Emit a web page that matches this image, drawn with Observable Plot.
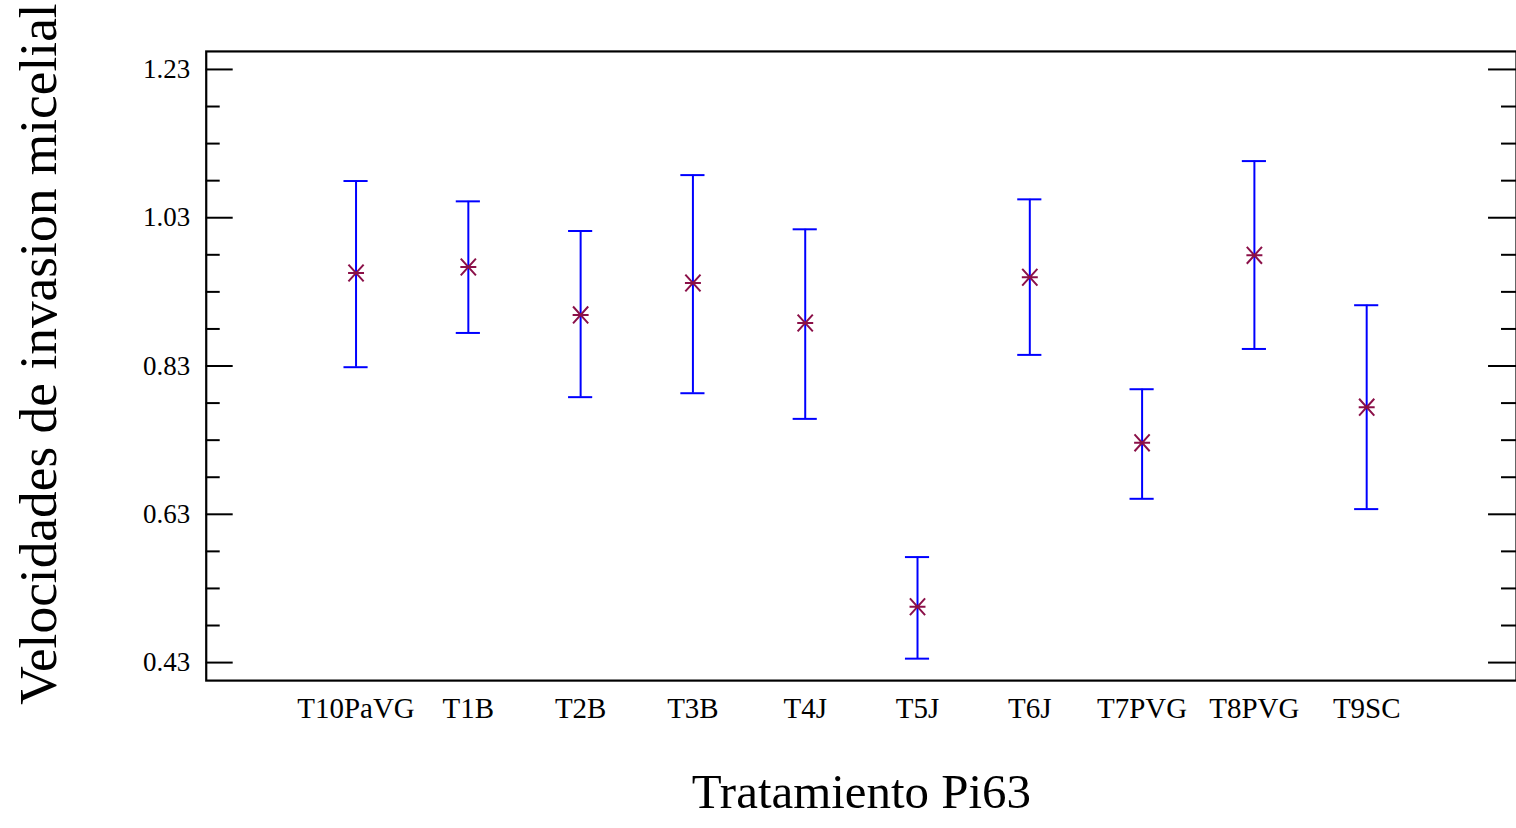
<!DOCTYPE html>
<html>
<head>
<meta charset="utf-8">
<script src="https://cdn.jsdelivr.net/npm/d3@7"></script>
<script src="https://cdn.jsdelivr.net/npm/@observablehq/plot@0.6"></script>
<style>
  html, body { margin: 0; padding: 0; background: #fff; overflow: hidden; }
  #chart svg { display: block; }
</style>
</head>
<body>
<div id="chart"></div>
<script>
// Data
const categories = ["T10PaVG", "T1B", "T2B", "T3B", "T4J", "T5J", "T6J", "T7PVG", "T8PVG", "T9SC"];
const means = [0.9555, 0.9636, 0.8989, 0.9420, 0.8881, 0.5053, 0.9497, 0.7264, 0.9793, 0.7745];
const lower = [0.8284, 0.8746, 0.7880, 0.7933, 0.7587, 0.4353, 0.8450, 0.6509, 0.8530, 0.6370];
const upper = [1.0795, 1.0521, 1.0121, 1.0875, 1.0144, 0.5723, 1.0548, 0.7987, 1.1064, 0.9120];
const yMajorTicks = [0.43, 0.63, 0.83, 1.03, 1.23];
const yMinorTicks = [0.48, 0.53, 0.58, 0.68, 0.73, 0.78, 0.88, 0.93, 0.98, 1.08, 1.13, 1.18];
const xTitle = "Tratamiento Pi63";
const yTitle = "Velocidades de invasion micelial";

const rows = categories.map((c, i) => ({cat: c, mean: means[i], lo: lower[i], hi: upper[i]}));

const W = 1518, H = 828;
const mL = 206, mR = 0, mT = 51, mB = 147;
const frameW = W - mL - mR;
const FONT = "'Liberation Serif', 'Times New Roman', serif";

// custom asterisk: horizontal bar plus two steep diagonals
const star = {
  draw(ctx, size) {
    const r = Math.sqrt(size / Math.PI);
    const dx = r * 0.95, dy = r * 1.05;
    ctx.moveTo(-r, 0); ctx.lineTo(r, 0);
    ctx.moveTo(-dx, -dy); ctx.lineTo(dx, dy);
    ctx.moveTo(-dx, dy); ctx.lineTo(dx, -dy);
  }
};

const chart = Plot.plot({
  width: W,
  height: H,
  marginLeft: mL,
  marginRight: mR,
  marginTop: mT,
  marginBottom: mB,
  style: {fontFamily: FONT, color: "#000", background: "#fff"},
  x: {type: "band", domain: categories, paddingInner: 0.785, paddingOuter: 1.2266, round: false, axis: null},
  y: {domain: [0.4057, 1.2543], axis: null},
  marks: [
    Plot.frame({stroke: "#000", strokeWidth: 2.2}),
    // inward ticks, left and right
    Plot.ruleY(yMajorTicks, {insetRight: frameW - 27, stroke: "#000", strokeWidth: 2}),
    Plot.ruleY(yMinorTicks, {insetRight: frameW - 14, stroke: "#000", strokeWidth: 2}),
    Plot.ruleY(yMajorTicks, {insetLeft: frameW - 2 - 26, stroke: "#000", strokeWidth: 2}),
    Plot.ruleY(yMinorTicks, {insetLeft: frameW - 2 - 13, stroke: "#000", strokeWidth: 2}),
    // y tick labels
    Plot.text(yMajorTicks, {y: d => d, text: d => d.toFixed(2), frameAnchor: "left", dx: -16, textAnchor: "end", lineAnchor: "middle", fontSize: 27, fontFamily: FONT, fill: "#000"}),
    // x tick labels
    Plot.text(categories, {x: d => d, text: d => d, frameAnchor: "bottom", dy: 28, textAnchor: "middle", lineAnchor: "middle", fontSize: 29, fontFamily: FONT, fill: "#000"}),
    // error bars
    Plot.ruleX(rows, {x: "cat", y1: "lo", y2: "hi", stroke: "#0000ff", strokeWidth: 2}),
    Plot.tickY(rows, {x: "cat", y: "hi", stroke: "#0000ff", strokeWidth: 2}),
    Plot.tickY(rows, {x: "cat", y: "lo", stroke: "#0000ff", strokeWidth: 2}),
    // means
    Plot.dot(rows, {x: "cat", y: "mean", symbol: star, r: 8, stroke: "#8b1048", strokeWidth: 2, fill: "none"}),
    // titles
    Plot.text([yTitle], {frameAnchor: "left", rotate: -90, dx: 38 - mL, dy: -12, textAnchor: "middle", fontSize: 53.5, lineAnchor: "middle", fontFamily: FONT, fill: "#000"}),
    Plot.text([xTitle], {frameAnchor: "bottom", dy: 112, textAnchor: "middle", fontSize: 49, lineAnchor: "middle", fontFamily: FONT, fill: "#000"})
  ]
});

document.getElementById("chart").appendChild(chart);
</script>
</body>
</html>
